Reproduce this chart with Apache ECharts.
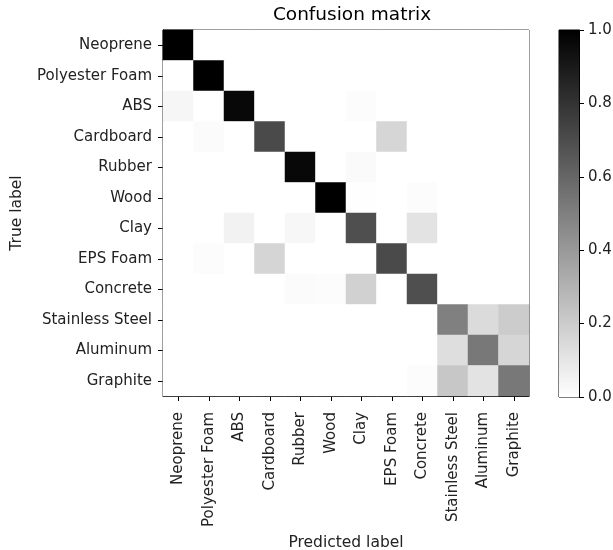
<!DOCTYPE html>
<html>
<head>
<meta charset="utf-8">
<script src="https://cdn.jsdelivr.net/npm/echarts@6/dist/echarts.min.js"></script>
<style>
html,body{margin:0;padding:0;background:#fff;}
#chart{width:613px;height:550px;}
</style>
</head>
<body>
<div id="chart"></div>
<script>
const categories = ['Neoprene','Polyester Foam','ABS','Cardboard','Rubber','Wood','Clay','EPS Foam','Concrete','Stainless Steel','Aluminum','Graphite'];
// rows = true label, columns = predicted label
const matrix = [
  [1.00,0,0,0,0,0,0,0,0,0,0,0],
  [0,1.00,0,0,0,0,0,0,0,0,0,0],
  [0.035,0,0.97,0,0,0,0.01,0,0,0,0,0],
  [0,0.015,0,0.71,0,0,0,0.16,0,0,0,0],
  [0,0,0,0,0.97,0,0.02,0,0,0,0,0],
  [0,0,0,0,0,1.00,0.005,0,0.01,0,0,0],
  [0,0,0.05,0,0.03,0,0.69,0,0.11,0,0,0],
  [0,0.01,0,0.165,0,0,0,0.71,0,0,0,0],
  [0,0,0,0,0.015,0.01,0.18,0,0.69,0,0,0],
  [0,0,0,0,0,0,0,0,0,0.50,0.14,0.20],
  [0,0,0,0,0,0,0,0,0,0.13,0.53,0.16],
  [0,0,0,0,0,0,0,0,0.01,0.22,0.11,0.53]
];
const colorbarTicks = [0,0.2,0.4,0.6,0.8,1.0];

const heatData = [];
matrix.forEach((row, yi) => row.forEach((v, xi) => heatData.push([xi, yi, v])));

const FONT = 'DejaVu Sans';
const chart = echarts.init(document.getElementById('chart'), null, {renderer:'canvas'});
chart.setOption({
  animation:false,
  backgroundColor:'#fff',
  textStyle:{fontFamily:FONT},
  title:{text:'Confusion matrix', left:347, top:1, textAlign:'center',
    textStyle:{fontFamily:FONT, fontWeight:'normal', fontSize:18.5, color:'#000'}},
  grid:[
    {left:163, top:30, width:366, height:366, show:true, borderColor:'#000', borderWidth:1, backgroundColor:'transparent', containLabel:false, outerBoundsMode:'none'},
    {left:559, top:30, width:20, height:367, show:true, borderColor:'#000', borderWidth:1, backgroundColor:'transparent', containLabel:false, outerBoundsMode:'none'}
  ],
  xAxis:[
    {type:'category', gridIndex:0, data:categories, position:'bottom',
      axisLine:{show:true, lineStyle:{color:'#000'}},
      axisTick:{show:true, alignWithLabel:true, length:5, lineStyle:{color:'#000'}},
      axisLabel:{rotate:90, fontSize:15, color:'#222', margin:16, fontFamily:FONT, interval:0},
      splitLine:{show:false},
      name:'Predicted label', nameLocation:'middle', nameGap:137,
      nameTextStyle:{fontSize:15.5, color:'#222', fontFamily:FONT}},
    {type:'category', gridIndex:1, data:['cb'], show:false}
  ],
  yAxis:[
    {type:'category', gridIndex:0, data:categories, inverse:true,
      axisLine:{show:true, lineStyle:{color:'#000'}},
      axisTick:{show:true, alignWithLabel:true, length:5, lineStyle:{color:'#000'}},
      axisLabel:{fontSize:15, color:'#222', margin:11, fontFamily:FONT, interval:0, padding:[3,0,0,0]},
      splitLine:{show:false},
      name:'True label', nameLocation:'middle', nameGap:138, nameRotate:90,
      nameTextStyle:{fontSize:15.5, color:'#222', fontFamily:FONT}},
    {type:'value', gridIndex:1, min:0, max:1, interval:0.2, position:'right',
      axisLine:{show:true, lineStyle:{color:'#000'}},
      axisTick:{show:true, length:5, inside:false, lineStyle:{color:'#000'}},
      axisLabel:{fontSize:15, color:'#222', margin:9, fontFamily:FONT,
        formatter:(v)=>colorbarTicks.some(t=>Math.abs(t-v)<1e-9) ? v.toFixed(1) : ''},
      splitLine:{show:false}}
  ],
  visualMap:{show:false, min:0, max:1, seriesIndex:0, dimension:2,
    inRange:{color:['#ffffff','#000000']}},
  series:[
    {type:'heatmap', xAxisIndex:0, yAxisIndex:0, data:heatData,
      itemStyle:{borderWidth:0}, emphasis:{disabled:true}},
    {type:'bar', xAxisIndex:1, yAxisIndex:1, data:[1], barWidth:'100%',
      itemStyle:{color:new echarts.graphic.LinearGradient(0,0,0,1,[
        {offset:0,color:'#000000'},{offset:1,color:'#ffffff'}])}}
  ]
});
</script>
</body>
</html>
